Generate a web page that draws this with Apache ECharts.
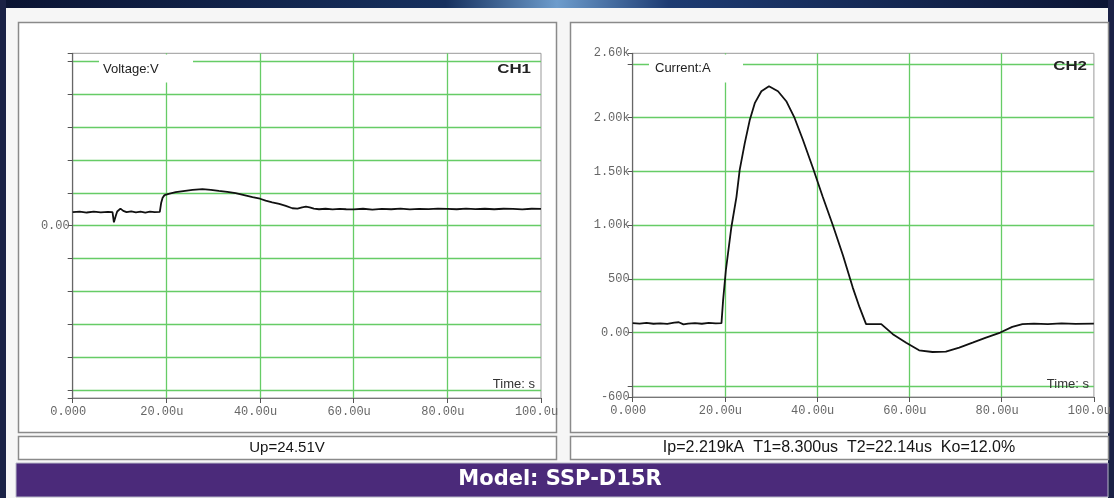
<!DOCTYPE html>
<html>
<head>
<meta charset="utf-8">
<script src="https://cdn.jsdelivr.net/npm/echarts@6/dist/echarts.min.js"></script>
<style>
html, body { margin: 0; padding: 0; background: #101a3a; }
#chart { width: 1114px; height: 498px; }
</style>
</head>
<body>
<div id="chart"></div>
<script>
// CH1 voltage trace (time in us, volts)
var ch1Time = [0, 1.5, 3, 4.5, 6, 7.5, 8.5, 8.8, 9.0, 9.2, 9.5, 10.2, 10.8, 11.5, 12.5, 13.5, 14.5, 15.5, 16.5, 17.5, 18.6,
    18.9, 19.2, 19.6, 20.5, 22, 24, 25.6, 27.7, 29.5, 31.2, 33, 34.8, 36.6, 38.4, 40, 41.2, 42.6, 44.1, 45.5, 46.9,
    48.0, 49.0, 49.8, 50.6, 51.5, 52.6, 54, 55.5, 57, 58.4, 60, 62, 64, 66, 68, 70, 72, 74, 76, 78, 80, 82, 84, 86,
    88, 90, 92, 94, 96, 98, 100];
var ch1Volt = [8.2, 8.6, 8.0, 8.5, 8.1, 8.4, 8.3, 2.0, 1.5, 6.0, 8.6, 10.4, 9.0, 8.2, 8.7, 8.1, 8.5, 8.0, 8.6, 8.2, 8.4,
    14.0, 17.0, 18.6, 19.4, 20.4, 21.2, 21.8, 22.2, 21.8, 21.2, 20.6, 19.8, 18.6, 17.4, 16.4, 15.2, 14.2, 13.2, 12.0, 10.6,
    10.4, 11.2, 11.6, 11.2, 10.4, 10.0, 10.3, 9.9, 10.2, 10.0, 9.9, 10.3, 9.8, 10.2, 10.0, 10.4, 9.9, 10.2, 10.1, 10.4, 10.2, 10.0, 10.4, 10.1,
    10.3, 10.0, 10.3, 10.2, 9.9, 10.3, 10.2];

// CH2 current trace (time in us, amps)
var ch2Time = [0, 1.5, 3, 4.5, 6, 7.5, 9, 10, 11, 12, 13.5, 15, 16.5, 18, 19.25, 19.6, 20.2, 21.4, 22.5, 23.2, 24.3,
    25.4, 26.5, 27.9, 29.55, 31.5, 33.3, 35.1, 36.9, 39.1, 41.2, 43.4, 45.6, 47.7, 49.2, 50.6, 53.9, 56.4, 59.3,
    62.1, 65, 67.9, 70.8, 73.7, 76.6, 79.7, 82.3, 84.5, 87, 90, 93, 96, 100];
var ch2Amp = [88, 84, 90, 82, 86, 80, 92, 96, 76, 84, 88, 82, 90, 86, 88, 300, 580, 983, 1264, 1514, 1764,
    1982, 2139, 2247, 2294, 2247, 2154, 1998, 1795, 1530, 1264, 999, 718, 421, 234, 79, 79, -15, -94,
    -165, -181, -178, -140, -94, -47, 0, 53, 79, 84, 78, 86, 80, 84];

// axes
var timeLabels = { 0: '0.000', 20: '20.00u', 40: '40.00u', 60: '60.00u', 80: '80.00u', 100: '100.0u' };
var timeTicks = [0, 20, 40, 60, 80, 100];
var ch1Ticks = [-105, -100, -80, -60, -40, -20, 0, 20, 40, 60, 80, 100, 105];
var ch1Labels = { 0: '0.00' };
var ch2Ticks = [-600, -500, 0, 500, 1000, 1500, 2000, 2500, 2600];
var ch2Labels = { '-600': '-600', 0: '0.00', 500: '500', 1000: '1.00k', 1500: '1.50k', 2000: '2.00k', 2600: '2.60k' };

var green = '#66cc66';
var monoFont = 'Liberation Mono';

function zip(a, b) {
    return a.map(function (t, i) { return [t, b[i]]; });
}

function xAxisOf(idx) {
    return {
        type: 'value', gridIndex: idx, min: 0, max: 100,
        axisLine: { show: true, onZero: false, lineStyle: { color: '#777', width: 1 } },
        axisTick: { show: true, length: 5, customValues: timeTicks, lineStyle: { color: '#555' } },
        axisLabel: {
            customValues: timeTicks, color: '#666', fontFamily: monoFont, fontSize: 12, margin: 8,
            padding: [0, 9, 0, 0],
            formatter: function (v) { return timeLabels[v] || ''; }
        },
        splitLine: { show: true, showMinLine: false, showMaxLine: false, lineStyle: { color: green, width: 1.3 } }
    };
}

function yAxisOf(idx, min, max, ticks, labels) {
    return {
        type: 'value', gridIndex: idx, min: min, max: max,
        axisLine: { show: true, onZero: false, lineStyle: { color: '#666', width: 1.2 } },
        axisTick: { show: true, length: 5, customValues: ticks, lineStyle: { color: '#555' } },
        axisLabel: {
            customValues: Object.keys(labels).map(Number), color: '#666', fontFamily: monoFont, fontSize: 12, margin: 3,
            formatter: function (v) { return labels[v] || ''; }
        },
        splitLine: { show: true, showMinLine: false, showMaxLine: false, lineStyle: { color: green, width: 1.3 } }
    };
}

var graphics = [
    // page
    { type: 'rect', z: -20, shape: { x: 0, y: 0, width: 1114, height: 498 }, style: { fill: '#f6f6f6' } },
    { type: 'rect', z: -19, shape: { x: 0, y: 0, width: 1114, height: 8 },
        style: { fill: new echarts.graphic.LinearGradient(0, 0, 1, 0, [
            { offset: 0, color: '#0b1433' }, { offset: 0.4, color: '#16305e' }, { offset: 0.5, color: '#6d9ccc' },
            { offset: 0.6, color: '#1d3b72' }, { offset: 1, color: '#0b1433' }]) } },
    { type: 'rect', z: -19, shape: { x: 0, y: 0, width: 6, height: 498 }, style: { fill: '#1a2145' } },
    { type: 'rect', z: -19, shape: { x: 1108, y: 0, width: 6, height: 498 }, style: { fill: '#1a2145' } },
    // chart boxes
    { type: 'rect', z: -15, shape: { x: 18.5, y: 22.5, width: 538, height: 410 }, style: { fill: '#fff', stroke: '#8a8a8a', lineWidth: 1.5 } },
    { type: 'rect', z: -15, shape: { x: 570.5, y: 22.5, width: 538, height: 410 }, style: { fill: '#fff', stroke: '#8a8a8a', lineWidth: 1.5 } },
    { type: 'rect', z: -15, shape: { x: 18.5, y: 436.5, width: 538, height: 23 }, style: { fill: '#fff', stroke: '#8a8a8a', lineWidth: 1.5 } },
    { type: 'rect', z: -15, shape: { x: 570.5, y: 436.5, width: 538, height: 23 }, style: { fill: '#fff', stroke: '#8a8a8a', lineWidth: 1.5 } },
    // model bar
    { type: 'rect', z: -15, shape: { x: 16, y: 463, width: 1092, height: 34 }, style: { fill: '#4b2a7a', stroke: '#b8b8c8', lineWidth: 1 } },
    { type: 'text', z: 20, x: 560, y: 480, style: { text: 'Model: SSP-D15R', fill: '#ffffff', font: 'bold 21px "DejaVu Sans"', align: 'center', verticalAlign: 'middle' } },
    // info lines
    { type: 'text', z: 20, x: 287, y: 448, style: { text: 'Up=24.51V', fill: '#151515', font: '15px "Liberation Sans"', align: 'center', verticalAlign: 'middle' } },
    { type: 'text', z: 20, x: 839, y: 448, style: { text: 'Ip=2.219kA  T1=8.300us  T2=22.14us  Ko=12.0%', fill: '#151515', font: '16px "Liberation Sans"', align: 'center', verticalAlign: 'middle' } },
    // in-plot labels
    { type: 'rect', z: 10, shape: { x: 99, y: 54.5, width: 94, height: 28 }, style: { fill: '#fff' } },
    { type: 'text', z: 11, x: 103, y: 69, style: { text: 'Voltage:V', fill: '#222', font: '13px "Liberation Sans"', verticalAlign: 'middle' } },
    { type: 'rect', z: 10, shape: { x: 649, y: 54.5, width: 94, height: 28 }, style: { fill: '#fff' } },
    { type: 'text', z: 11, x: 655, y: 68, style: { text: 'Current:A', fill: '#222', font: '13px "Liberation Sans"', verticalAlign: 'middle' } },
    { type: 'text', z: 11, x: 531, y: 69, scaleX: 1.3, style: { text: 'CH1', fill: '#222', font: 'bold 13px "Liberation Sans"', align: 'right', verticalAlign: 'middle' } },
    { type: 'text', z: 11, x: 1087, y: 66, scaleX: 1.3, style: { text: 'CH2', fill: '#222', font: 'bold 13px "Liberation Sans"', align: 'right', verticalAlign: 'middle' } },
    { type: 'text', z: 11, x: 535, y: 384, style: { text: 'Time: s', fill: '#333', font: '13px "Liberation Sans"', align: 'right', verticalAlign: 'middle' } },
    { type: 'text', z: 11, x: 1089, y: 384, style: { text: 'Time: s', fill: '#333', font: '13px "Liberation Sans"', align: 'right', verticalAlign: 'middle' } }
];

var option = {
    animation: false,
    backgroundColor: 'transparent',
    grid: [
        { left: 72.7, top: 53.3, width: 468.3, height: 344.7, show: true, backgroundColor: '#fff', borderColor: '#999', borderWidth: 1 },
        { left: 632.7, top: 53.3, width: 461.6, height: 343.7, show: true, backgroundColor: '#fff', borderColor: '#999', borderWidth: 1 }
    ],
    xAxis: [xAxisOf(0), xAxisOf(1)],
    yAxis: [
        yAxisOf(0, -105, 105, ch1Ticks, ch1Labels),
        yAxisOf(1, -600, 2600, ch2Ticks, ch2Labels)
    ],
    graphic: graphics,
    series: [
        { name: 'CH1', type: 'line', xAxisIndex: 0, yAxisIndex: 0, data: zip(ch1Time, ch1Volt), showSymbol: false,
            lineStyle: { color: '#111', width: 1.8 }, z: 3 },
        { name: 'CH2', type: 'line', xAxisIndex: 1, yAxisIndex: 1, data: zip(ch2Time, ch2Amp), showSymbol: false,
            lineStyle: { color: '#111', width: 1.8 }, z: 3 }
    ]
};

var myChart = echarts.init(document.getElementById('chart'), null, { renderer: 'canvas' });
myChart.setOption(option);
</script>
</body>
</html>
